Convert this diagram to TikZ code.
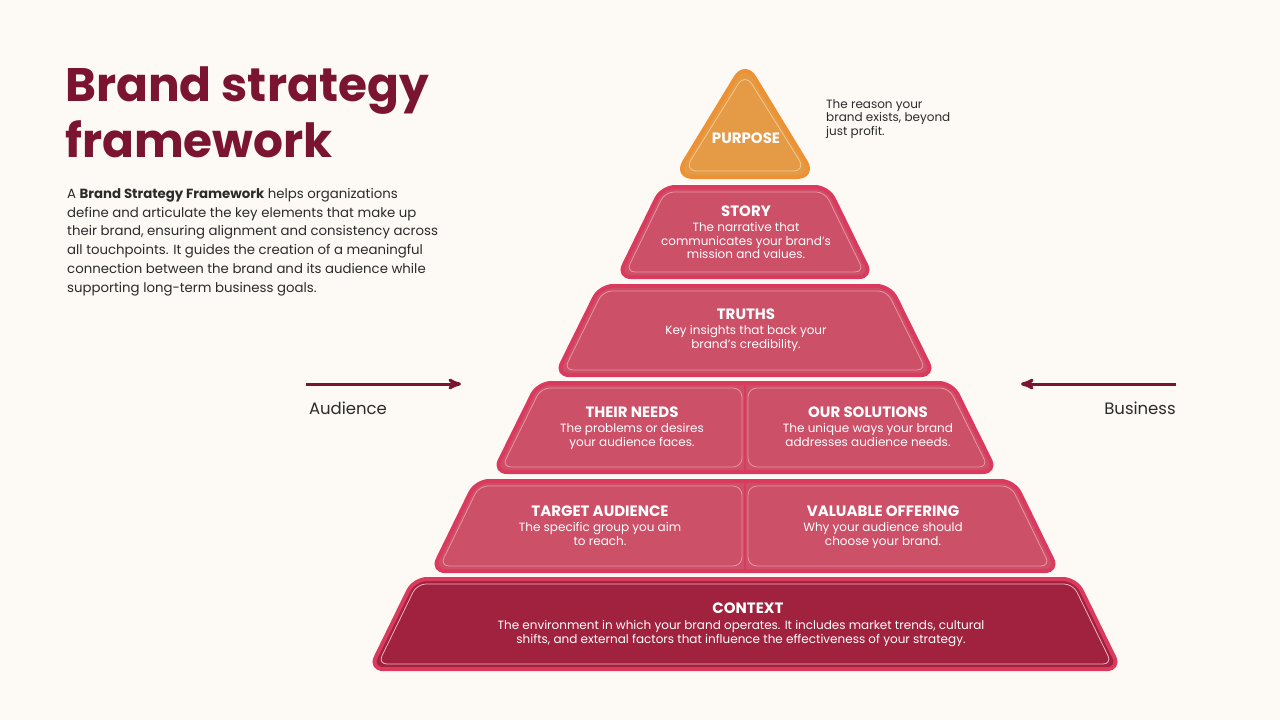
\documentclass[tikz,border=0pt]{standalone}
\usepackage{fontspec}
\setmainfont{Poppins}
\usetikzlibrary{positioning, arrows}

\definecolor{bg}{HTML}{FDFAF5}
\definecolor{maroon}{HTML}{7A1430}
\definecolor{pinkfill}{HTML}{CC5068}
\definecolor{pinkline}{HTML}{DA3A5E}
\definecolor{pinkinner}{HTML}{EE93A6}
\definecolor{ctxfill}{HTML}{A0223E}
\definecolor{orangefill}{HTML}{E59A45}
\definecolor{orangeline}{HTML}{EC9234}
\definecolor{orangeinner}{HTML}{F7C98C}
\definecolor{bodytext}{HTML}{2B2B2B}

\tikzset{
  layer/.style={draw=pinkline, line width=4pt, rounded corners=13pt},
  inner/.style={draw=pinkinner, line width=0.8pt, rounded corners=9pt},
  head/.style={text=white, font=\fontsize{15}{17}\selectfont\bfseries, inner sep=0pt},
  desc/.style={text=white, font=\fontsize{12}{13.3}\selectfont, align=center, inner sep=0pt},
  side/.style={text=bodytext, font=\fontsize{16.5}{18}\selectfont, inner sep=0pt},
  flow/.style={->, draw=maroon, line width=3pt},
}

% one layer: top y, bottom y, top half width, bottom half width, fill
\newcommand{\pyrlayer}[5]{%
  \draw[layer, fill=#5] (745-#3,#1) -- (745+#3,#1) -- (745+#4,#2) -- (745-#4,#2) -- cycle;
  \draw[inner] (745-#3+3,#1+5) -- (745+#3-3,#1+5) -- (745+#4-8,#2-5) -- (745-#4+8,#2-5) -- cycle;
}
% same, cut in two halves
\newcommand{\pyrsplit}[5]{%
  \draw[layer, fill=#5] (745-#3,#1) -- (745+#3,#1) -- (745+#4,#2) -- (745-#4,#2) -- cycle;
  \draw[pinkline, line width=2pt] (745,#1) -- (745,#2);
  \draw[inner] (745-#3+3,#1+5) -- (742,#1+5) -- (742,#2-5) -- (745-#4+8,#2-5) -- cycle;
  \draw[inner] (748,#1+5) -- (745+#3-3,#1+5) -- (745+#4-8,#2-5) -- (748,#2-5) -- cycle;
}

\begin{document}
\begin{tikzpicture}[x=1pt, y=-1pt, >=stealth']
    \useasboundingbox[fill=bg] (0,0) rectangle (1280,720);

    % title and intro
    \node[anchor=base west, inner sep=0pt, text=maroon, align=left,
          font=\fontsize{47}{56}\selectfont\bfseries] (title) at (65,157) {Brand strategy\\framework};
    \node[anchor=north west, inner sep=0pt, text=bodytext, align=left,
          font=\fontsize{13.3}{18.8}\selectfont] (intro) at (67,188)
        {A \textbf{Brand Strategy Framework} helps organizations\\
         define and articulate the key elements that make up\\
         their brand, ensuring alignment and consistency across\\
         all touchpoints. It guides the creation of a meaningful\\
         connection between the brand and its audience while\\
         supporting long-term business goals.};

    % purpose
    \draw[layer, draw=orangeline, fill=orangefill, rounded corners=18pt]
        (745,62) -- (815,177) -- (675,177) -- cycle;
    \draw[inner, draw=orangeinner, rounded corners=13pt]
        (745,73) -- (806,171) -- (684,171) -- cycle;
    \node[head] (purpose) at (746,138) {PURPOSE};
    \node[anchor=north west, inner sep=0pt, text=bodytext, align=left,
          font=\fontsize{12}{13.8}\selectfont] (why) at (826,99)
        {The reason your\\brand exists, beyond\\just profit.};

    % layers
    \pyrlayer{187}{277}{83}{127}{pinkfill}
    \pyrlayer{286}{375}{145}{189}{pinkfill}
    \pyrsplit{383}{472}{207}{251}{pinkfill}
    \pyrsplit{481}{571}{269}{313}{pinkfill}
    \begin{scope}[inner/.append style={draw=pinkinner!70!white}]
      \pyrlayer{579}{669}{331}{375}{ctxfill}
    \end{scope}

    \node[head] (story) at (746,211) {STORY};
    \node[desc, below=6pt of story] (storyd) {The narrative that\\communicates your brand’s\\mission and values.};
    \node[head] (truths) at (746,314) {TRUTHS};
    \node[desc, below=6pt of truths] (truthsd) {Key insights that back your\\brand’s credibility.};
    \node[head] (needs) at (632,412) {THEIR NEEDS};
    \node[desc, below=6pt of needs] (needsd) {The problems or desires\\your audience faces.};
    \node[head] (solutions) at (868,412) {OUR SOLUTIONS};
    \node[desc, below=6pt of solutions] (solutionsd) {The unique ways your brand\\addresses audience needs.};
    \node[head] (target) at (600,511) {TARGET AUDIENCE};
    \node[desc, below=6pt of target] (targetd) {The specific group you aim\\to reach.};
    \node[head] (offering) at (883,511) {VALUABLE OFFERING};
    \node[desc, below=6pt of offering] (offeringd) {Why your audience should\\choose your brand.};
    \node[head] (context) at (748,608) {CONTEXT};
    \node[desc, below=7pt of context, xshift=-7pt] (contextd)
        {The environment in which your brand operates. It includes market trends, cultural\\
         shifts, and external factors that influence the effectiveness of your strategy.};

    % audience and business arrows
    \coordinate (audfrom) at (306,384);
    \coordinate (audto) at (461,384);
    \coordinate (busfrom) at (1176,384);
    \coordinate (busto) at (1021,384);
    \draw[flow] (audfrom) -- (audto);
    \draw[flow] (busfrom) -- (busto);
    \node[side] (audience) at (348,408) {Audience};
    \node[side] (business) at (1140,408) {Business};
\end{tikzpicture}
\end{document}
